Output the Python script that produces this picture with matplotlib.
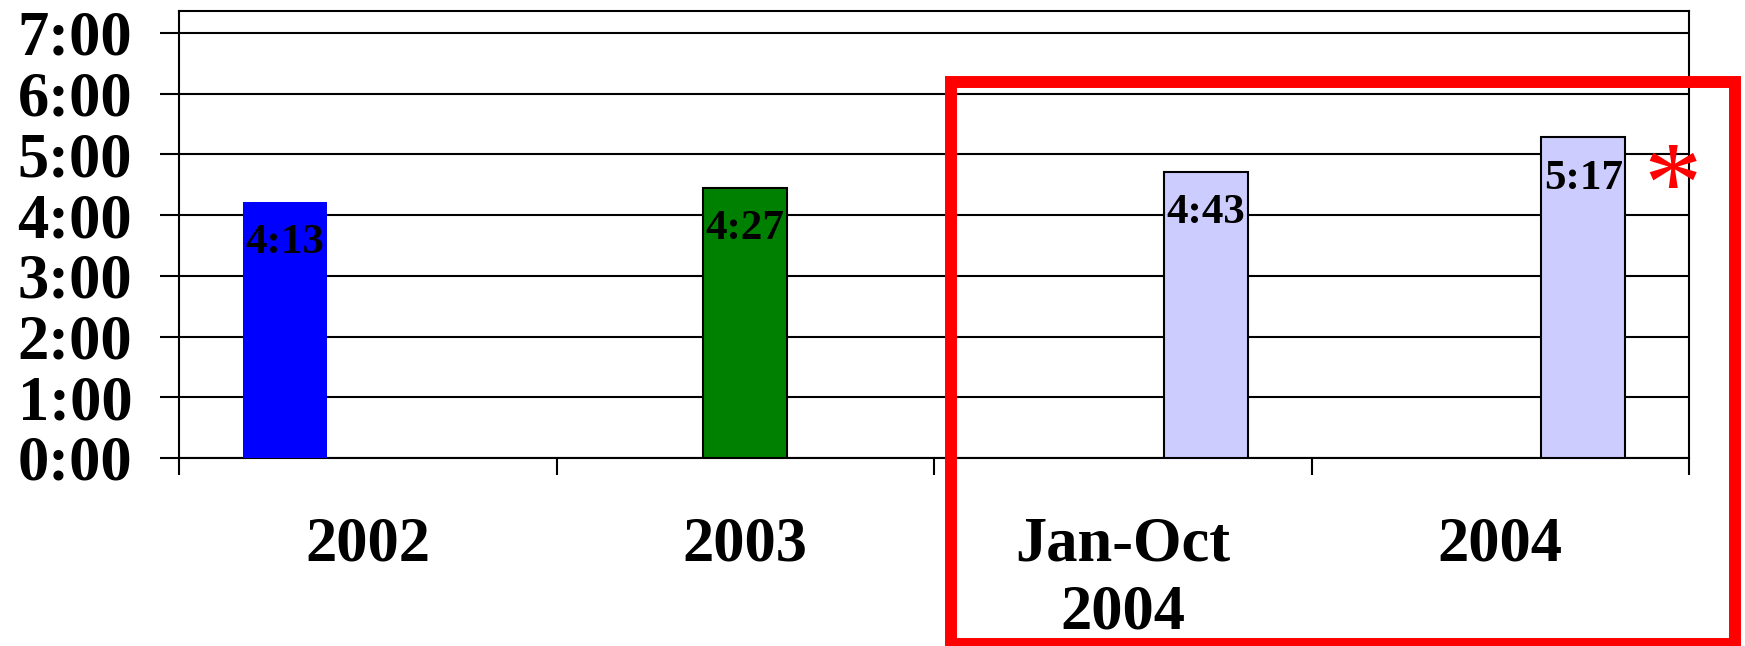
import matplotlib
matplotlib.use("Agg")
import matplotlib.pyplot as plt
from matplotlib.patches import Rectangle
from matplotlib.ticker import FuncFormatter, FixedLocator

# ---- data ----
categories = ["2002", "2003", "Jan-Oct\n2004", "2004"]
value_labels = ["4:13", "4:27", "4:43", "5:17"]
minutes = [253, 267, 283, 317]          # average time in minutes
series_names = ["2002", "2003", "2004"]
series_of_category = [0, 1, 2, 2]
series_colors = ["#0000FF", "#008000", "#CCCCFF"]
series_edges = ["none", "black", "black"]
y_hours = [0, 1, 2, 3, 4, 5, 6, 7]

W, H = 1745, 646
FONT = "Liberation Serif"

fig = plt.figure(figsize=(W / 100, H / 100), dpi=100)
ax = fig.add_axes([179 / W, 1 - 458 / H, (1689 - 179) / W, (458 - 11) / H])

group_step = 0.22
bar_w = 0.2225
n_series = len(series_names)
for i, (m, s) in enumerate(zip(minutes, series_of_category)):
    x = i + (s - (n_series - 1) / 2) * group_step
    val = m / 60.0
    ax.bar(x, val, width=bar_w, color=series_colors[s],
           edgecolor=series_edges[s], linewidth=1.5, zorder=3)
    ax.annotate(value_labels[i], (x, val), xytext=(0, -37),
                textcoords="offset points", ha="center", va="baseline",
                fontsize=31, fontweight="bold", family=FONT, zorder=4)

ax.set_xlim(-0.5, len(categories) - 0.5)
ax.set_ylim(0, 7.362)

# y axis
ax.set_yticks(y_hours)
ax.yaxis.set_major_formatter(FuncFormatter(lambda v, p: f"{int(v)}:{int(round((v % 1) * 60)):02d}"))
ax.tick_params(axis="y", length=13.7, width=1.5, pad=20, labelsize=45, color="black")
for lab in ax.get_yticklabels():
    lab.set_family(FONT)
    lab.set_fontweight("bold")
ax.yaxis.grid(True, color="black", linewidth=1.5, zorder=1)
ax.set_axisbelow(True)

# x axis: boundary ticks (major) + category labels (minor)
ax.xaxis.set_major_locator(FixedLocator([i - 0.5 for i in range(len(categories) + 1)]))
ax.xaxis.set_major_formatter(FuncFormatter(lambda v, p: ""))
ax.xaxis.set_minor_locator(FixedLocator(list(range(len(categories)))))
ax.set_xticks(list(range(len(categories))), categories, minor=True)
ax.tick_params(axis="x", which="major", length=12.2, width=1.5, color="black")
ax.tick_params(axis="x", which="minor", length=0, pad=42, labelsize=45)
for lab in ax.get_xticklabels(minor=True):
    lab.set_family(FONT)
    lab.set_fontweight("bold")
    lab.set_linespacing(1.22)

for sp in ax.spines.values():
    sp.set_color("black")
    sp.set_linewidth(1.5)

# red highlight box and asterisk
fig.add_artist(Rectangle((951 / W, 1 - 644 / H), (1735 - 951) / W, (644 - 82) / H,
                         transform=fig.transFigure, fill=False, edgecolor="#FF0000",
                         linewidth=8.6, joinstyle="miter", clip_on=False))
fig.text(1672 / W, 1 - 222 / H, "*", color="#FF0000", fontsize=84, fontweight="normal",
         family=FONT, ha="center", va="baseline")

fig.savefig("out.png", dpi=100)
